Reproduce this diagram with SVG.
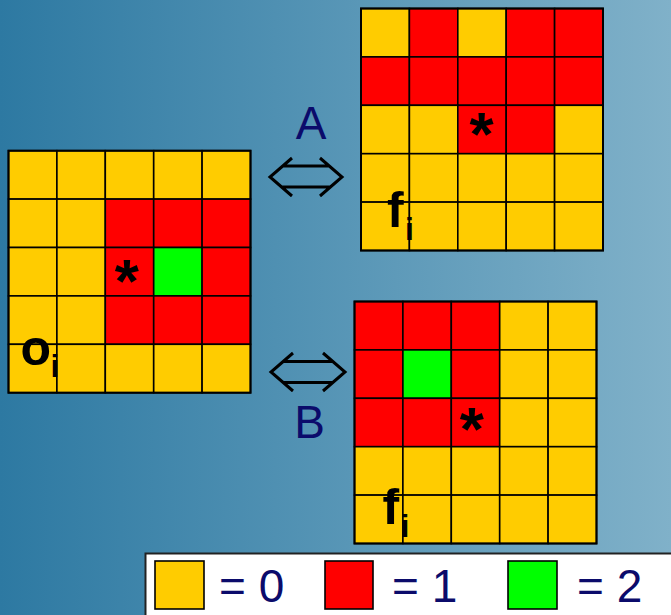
<svg xmlns="http://www.w3.org/2000/svg" width="671" height="615" viewBox="0 0 671 615">
<defs>
<linearGradient id="bg" x1="0" y1="0" x2="1" y2="0">
<stop offset="0" stop-color="#2d79a2"/>
<stop offset="1" stop-color="#80b1c9"/>
</linearGradient>
<style>
.c{stroke:#000;stroke-width:1.6}
.Y{fill:#ffcc00}
.R{fill:#ff0000}
.G{fill:#00ff00}
.lbl{font-family:"Liberation Sans",Arial,sans-serif;font-size:46px;fill:#0b0b6b}
.bold{font-family:"Liberation Sans",Arial,sans-serif;font-weight:bold;fill:#000}
.arr{fill:none;stroke:#000;stroke-width:3}
</style>
</defs>
<rect x="0" y="0" width="671" height="615" fill="url(#bg)"/>

<g id="grid-o" transform="translate(8.5,150.7)">
<rect class="c Y" x="0" y="0" width="48.4" height="48.4"/><rect class="c Y" x="48.4" y="0" width="48.4" height="48.4"/><rect class="c Y" x="96.8" y="0" width="48.4" height="48.4"/><rect class="c Y" x="145.2" y="0" width="48.4" height="48.4"/><rect class="c Y" x="193.6" y="0" width="48.4" height="48.4"/>
<rect class="c Y" x="0" y="48.4" width="48.4" height="48.4"/><rect class="c Y" x="48.4" y="48.4" width="48.4" height="48.4"/><rect class="c R" x="96.8" y="48.4" width="48.4" height="48.4"/><rect class="c R" x="145.2" y="48.4" width="48.4" height="48.4"/><rect class="c R" x="193.6" y="48.4" width="48.4" height="48.4"/>
<rect class="c Y" x="0" y="96.8" width="48.4" height="48.4"/><rect class="c Y" x="48.4" y="96.8" width="48.4" height="48.4"/><rect class="c R" x="96.8" y="96.8" width="48.4" height="48.4"/><rect class="c G" x="145.2" y="96.8" width="48.4" height="48.4"/><rect class="c R" x="193.6" y="96.8" width="48.4" height="48.4"/>
<rect class="c Y" x="0" y="145.2" width="48.4" height="48.4"/><rect class="c Y" x="48.4" y="145.2" width="48.4" height="48.4"/><rect class="c R" x="96.8" y="145.2" width="48.4" height="48.4"/><rect class="c R" x="145.2" y="145.2" width="48.4" height="48.4"/><rect class="c R" x="193.6" y="145.2" width="48.4" height="48.4"/>
<rect class="c Y" x="0" y="193.6" width="48.4" height="48.4"/><rect class="c Y" x="48.4" y="193.6" width="48.4" height="48.4"/><rect class="c Y" x="96.8" y="193.6" width="48.4" height="48.4"/><rect class="c Y" x="145.2" y="193.6" width="48.4" height="48.4"/><rect class="c Y" x="193.6" y="193.6" width="48.4" height="48.4"/>
<rect x="0" y="0" width="242" height="242" fill="none" stroke="#000" stroke-width="2"/>
<text class="bold" x="118.2" y="151" font-size="62" text-anchor="middle">*</text>
<text class="bold" x="12" y="214.3" font-size="50">o</text>
<text class="bold" x="42" y="226.3" font-size="32">i</text>
</g>

<g id="grid-fA" transform="translate(361,8.5)">
<rect class="c Y" x="0" y="0" width="48.4" height="48.4"/><rect class="c R" x="48.4" y="0" width="48.4" height="48.4"/><rect class="c Y" x="96.8" y="0" width="48.4" height="48.4"/><rect class="c R" x="145.2" y="0" width="48.4" height="48.4"/><rect class="c R" x="193.6" y="0" width="48.4" height="48.4"/>
<rect class="c R" x="0" y="48.4" width="48.4" height="48.4"/><rect class="c R" x="48.4" y="48.4" width="48.4" height="48.4"/><rect class="c R" x="96.8" y="48.4" width="48.4" height="48.4"/><rect class="c R" x="145.2" y="48.4" width="48.4" height="48.4"/><rect class="c R" x="193.6" y="48.4" width="48.4" height="48.4"/>
<rect class="c Y" x="0" y="96.8" width="48.4" height="48.4"/><rect class="c Y" x="48.4" y="96.8" width="48.4" height="48.4"/><rect class="c R" x="96.8" y="96.8" width="48.4" height="48.4"/><rect class="c R" x="145.2" y="96.8" width="48.4" height="48.4"/><rect class="c Y" x="193.6" y="96.8" width="48.4" height="48.4"/>
<rect class="c Y" x="0" y="145.2" width="48.4" height="48.4"/><rect class="c Y" x="48.4" y="145.2" width="48.4" height="48.4"/><rect class="c Y" x="96.8" y="145.2" width="48.4" height="48.4"/><rect class="c Y" x="145.2" y="145.2" width="48.4" height="48.4"/><rect class="c Y" x="193.6" y="145.2" width="48.4" height="48.4"/>
<rect class="c Y" x="0" y="193.6" width="48.4" height="48.4"/><rect class="c Y" x="48.4" y="193.6" width="48.4" height="48.4"/><rect class="c Y" x="96.8" y="193.6" width="48.4" height="48.4"/><rect class="c Y" x="145.2" y="193.6" width="48.4" height="48.4"/><rect class="c Y" x="193.6" y="193.6" width="48.4" height="48.4"/>
<rect x="0" y="0" width="242" height="242" fill="none" stroke="#000" stroke-width="2"/>
<text class="bold" x="120.5" y="146.5" font-size="62" text-anchor="middle">*</text>
<text class="bold" x="26" y="218.5" font-size="50">f</text>
<text class="bold" x="44" y="231.5" font-size="32">i</text>
</g>

<g id="grid-fB" transform="translate(354.5,301.5)">
<rect class="c R" x="0" y="0" width="48.4" height="48.4"/><rect class="c R" x="48.4" y="0" width="48.4" height="48.4"/><rect class="c R" x="96.8" y="0" width="48.4" height="48.4"/><rect class="c Y" x="145.2" y="0" width="48.4" height="48.4"/><rect class="c Y" x="193.6" y="0" width="48.4" height="48.4"/>
<rect class="c R" x="0" y="48.4" width="48.4" height="48.4"/><rect class="c G" x="48.4" y="48.4" width="48.4" height="48.4"/><rect class="c R" x="96.8" y="48.4" width="48.4" height="48.4"/><rect class="c Y" x="145.2" y="48.4" width="48.4" height="48.4"/><rect class="c Y" x="193.6" y="48.4" width="48.4" height="48.4"/>
<rect class="c R" x="0" y="96.8" width="48.4" height="48.4"/><rect class="c R" x="48.4" y="96.8" width="48.4" height="48.4"/><rect class="c R" x="96.8" y="96.8" width="48.4" height="48.4"/><rect class="c Y" x="145.2" y="96.8" width="48.4" height="48.4"/><rect class="c Y" x="193.6" y="96.8" width="48.4" height="48.4"/>
<rect class="c Y" x="0" y="145.2" width="48.4" height="48.4"/><rect class="c Y" x="48.4" y="145.2" width="48.4" height="48.4"/><rect class="c Y" x="96.8" y="145.2" width="48.4" height="48.4"/><rect class="c Y" x="145.2" y="145.2" width="48.4" height="48.4"/><rect class="c Y" x="193.6" y="145.2" width="48.4" height="48.4"/>
<rect class="c Y" x="0" y="193.6" width="48.4" height="48.4"/><rect class="c Y" x="48.4" y="193.6" width="48.4" height="48.4"/><rect class="c Y" x="96.8" y="193.6" width="48.4" height="48.4"/><rect class="c Y" x="145.2" y="193.6" width="48.4" height="48.4"/><rect class="c Y" x="193.6" y="193.6" width="48.4" height="48.4"/>
<rect x="0" y="0" width="242" height="242" fill="none" stroke="#000" stroke-width="2"/>
<text class="bold" x="117.2" y="148.5" font-size="62" text-anchor="middle">*</text>
<text class="bold" x="28" y="222.5" font-size="50">f</text>
<text class="bold" x="46" y="235.5" font-size="32">i</text>
</g>

<g id="connectors">
<path class="arr" d="M292,158 L270,177 L292,196 M320,158 L342,177 L320,196 M282,166 H330 M282,187 H330"/>
<path class="arr" d="M293,353 L271,372 L293,391 M323,353 L345,372 L323,391 M283,361.5 H333 M283,382.5 H333"/>
<text class="lbl" x="311" y="139" text-anchor="middle">A</text>
<text class="lbl" x="309.5" y="438" text-anchor="middle">B</text>
</g>

<g id="legend">
<rect x="145.5" y="553.5" width="530" height="70" fill="#fff" stroke="#222" stroke-width="2"/>
<rect class="c Y" x="155" y="561" width="49" height="48"/>
<text class="lbl" x="219" y="602">= 0</text>
<rect class="c R" x="325" y="561" width="48" height="48"/>
<text class="lbl" x="392" y="602">= 1</text>
<rect class="c G" x="508" y="561" width="49" height="48"/>
<text class="lbl" x="577" y="602">= 2</text>
</g>
</svg>
